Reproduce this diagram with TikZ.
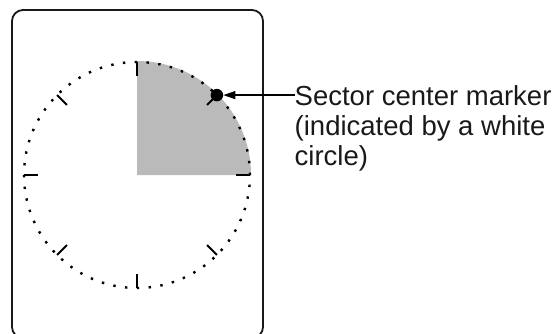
\documentclass[tikz,border=0pt]{standalone}
\usepackage{fontspec}
\setmainfont{Liberation Sans}
\usetikzlibrary{arrows.meta,positioning}

\begin{document}
\begin{tikzpicture}[
  x=1pt, y=1pt,
  frame/.style     = {draw=black!90, line width=1.8pt, rounded corners=11pt},
  sector/.style    = {fill=black!27, draw=none},
  dial/.style      = {draw=black, line width=2.4pt, dash pattern=on 2.4pt off 9.43pt},
  dialtick/.style  = {draw=black, line width=2pt},
  marker/.style    = {circle, fill=black, inner sep=0pt, minimum size=12.5pt},
  arr/.style       = {-{Triangle[length=12pt,width=8pt]}, line width=1.2pt, black},
  lbl/.style       = {font=\fontsize{27.5}{30}\selectfont, align=left,
                      inner sep=0pt, text=black!90},
]
\useasboundingbox (0,0) rectangle (556,333);
\begin{scope}
  \clip (0,0) rectangle (556,333);
  \draw[frame] (12,-5) rectangle (263,323);
\end{scope}
\coordinate (ctr) at (137,158);
\fill[sector] (ctr) -- ++(0:114) arc[start angle=0, end angle=90, radius=114] -- cycle;
\draw[dial] (ctr) circle[radius=113];
\foreach \a in {0,45,...,315}
  \draw[dialtick] (ctr) ++(\a:113) -- ++(\a+180:14);
\node[marker] (dot) at ([shift={(45:113)}]ctr) {};
\node[lbl, anchor=north west] (note) at (294.5,248)
     {Sector center marker\\(indicated by a white\\circle)};
\draw[arr] (dot -| note.west) -- (dot.east);
\end{tikzpicture}
\end{document}
